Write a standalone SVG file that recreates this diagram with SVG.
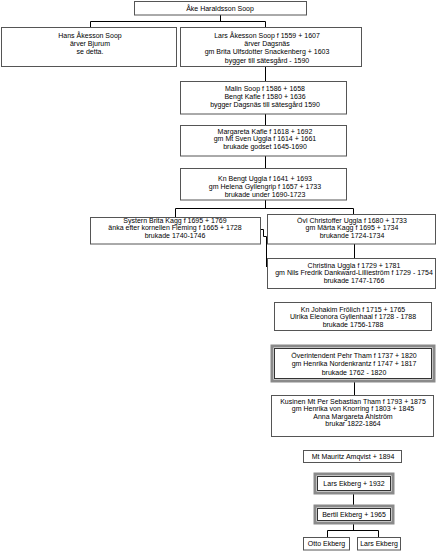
<svg xmlns="http://www.w3.org/2000/svg" width="440" height="552" viewBox="0 0 440 552">
<style>
.b{fill:#fff;stroke:#555;stroke-width:1}
.o{fill:#fff;stroke:#8a8a8a;stroke-width:3}
.i{fill:none;stroke:#333;stroke-width:1}
text{font-family:"Liberation Sans",Arial,sans-serif;font-size:7px;fill:#000;text-anchor:middle}
.c{fill:none;stroke:#000;stroke-width:1}
</style>
<g id="connectors">
<path class="c" d="M220.5,15 V21.5 M90.5,21.5 H265.5 M90.5,21.5 V27 M265.5,21.5 V27"/>
<path class="c" d="M265.5,67 V81 M265.5,114 V125 M265.5,156 V168 M265.5,200 V208.5 M175.5,208.5 H353.5 M175.5,208.5 V217 M353.5,208.5 V214"/>
<path class="c" d="M260,229.5 H263.5 V236.5 H266.5 V267"/>
<path class="c" d="M354.5,244 V258"/>
<path class="c" d="M354.5,382 V395"/>
<path class="c" d="M353.5,493 V506 M353.5,523 V530.5 M327.5,530.5 H378.5 M327.5,530.5 V537 M378.5,530.5 V537"/>
</g>
<g id="n1"><rect class="b" x="134.5" y="1.5" width="172" height="13.5"/><text x="220" y="11">Åke Haraldsson Soop</text></g>
<g id="n2"><rect class="b" x="1.5" y="27.5" width="175" height="39"/><text x="90" y="37.5">Hans Åkesson Soop</text><text x="90" y="45.5">ärver Bjurum</text><text x="90" y="54">se detta.</text></g>
<g id="n3"><rect class="b" x="180.5" y="27.5" width="181" height="39"/><text x="267" y="37.5">Lars Åkesson Soop f 1559 + 1607</text><text x="267" y="45.5">ärver Dagsnäs</text><text x="267" y="54">gm Brita Ulfsdotter Snackenberg + 1603</text><text x="267" y="62.5">bygger till sätesgård - 1590</text></g>
<g id="n4"><rect class="b" x="180.5" y="81.5" width="166" height="32.5"/><text x="265" y="90.5">Malin Soop f 1586 + 1658</text><text x="265" y="98.5">Bengt Kafle f 1580 + 1636</text><text x="265" y="106.5">bygger Dagsnäs till sätesgård 1590</text></g>
<g id="n5"><rect class="b" x="180.5" y="125.5" width="166" height="30.5"/><text x="265" y="133.5">Margareta Kafle f 1618 + 1692</text><text x="265" y="141">gm Mt Sven Uggla f 1614 + 1661</text><text x="265" y="148.5">brukade godset 1645-1690</text></g>
<g id="n6"><rect class="b" x="180.5" y="168.5" width="166" height="31.5"/><text x="265" y="180.5">Kn Bengt Uggla f 1641 + 1693</text><text x="265" y="188.5">gm Helena Gyllengrip f 1657 + 1733</text><text x="265" y="196.5">brukade under 1690-1723</text></g>
<g id="n7"><rect class="b" x="90.5" y="217.5" width="170" height="26.5"/><text x="175" y="222.5">Systern Brita Kagg f 1695 + 1769</text><text x="175" y="230">änka efter kornellen Fleming f 1665 + 1728</text><text x="175" y="237.5">brukade 1740-1746</text></g>
<g id="n8"><rect class="b" x="267.5" y="214.5" width="168" height="29.5"/><text x="352" y="222.5">Övl Christoffer Uggla f 1680 + 1733</text><text x="352" y="230">gm Märta Kagg f 1695 + 1734</text><text x="352" y="238">brukande 1724-1734</text></g>
<g id="n9"><rect class="b" x="267.5" y="258.5" width="168" height="30"/><text x="354" y="267.5">Christina Uggla f 1729 + 1781</text><text x="354" y="275">gm Nils Fredrik Dankward-Lillieström f 1729 - 1754</text><text x="354" y="283">brukade 1747-1766</text></g>
<g id="n10"><rect class="b" x="274.5" y="302.5" width="157" height="28"/><text x="353" y="311.5">Kn Johakim Frölich f 1715 + 1765</text><text x="353" y="319">Ulrika Eleonora Gyllenhaal f 1728 - 1788</text><text x="353" y="326.5">brukade 1756-1788</text></g>
<g id="n11"><rect class="o" x="272" y="346" width="162" height="35"/><rect class="i" x="274.5" y="348.5" width="157" height="30"/><text x="354" y="357.5">Överintendent Pehr Tham f 1737 + 1820</text><text x="354" y="365.5">gm Henrika Nordenkrantz f 1747 + 1817</text><text x="354" y="375">brukade 1762 - 1820</text></g>
<g id="n12"><rect class="b" x="271.5" y="395.5" width="162" height="41"/><text x="353" y="403.5">Kusinen Mt Per Sebastian Tham f 1793 + 1875</text><text x="353" y="411">gm Henrika von Knorring f 1803 + 1845</text><text x="353" y="418.5">Anna Margareta Ahlström</text><text x="353" y="426">brukar 1822-1864</text></g>
<g id="n13"><rect class="b" x="303.5" y="450.5" width="98" height="12"/><text x="353" y="459">Mt Mauritz Amqvist + 1894</text></g>
<g id="n14"><rect class="o" x="315" y="474" width="78" height="19"/><rect class="i" x="317.5" y="476.5" width="73" height="14"/><text x="354" y="486">Lars Ekberg + 1932</text></g>
<g id="n15"><rect class="o" x="315" y="506" width="78" height="17"/><rect class="i" x="317.5" y="508.5" width="73" height="12"/><text x="354" y="517">Bertil Ekberg + 1965</text></g>
<g id="n16"><rect class="b" x="303.5" y="537.5" width="46" height="12.5"/><text x="326.5" y="546">Otto Ekberg</text></g>
<g id="n17"><rect class="b" x="357.5" y="537.5" width="43" height="12.5"/><text x="379" y="546">Lars Ekberg</text></g>
</svg>
